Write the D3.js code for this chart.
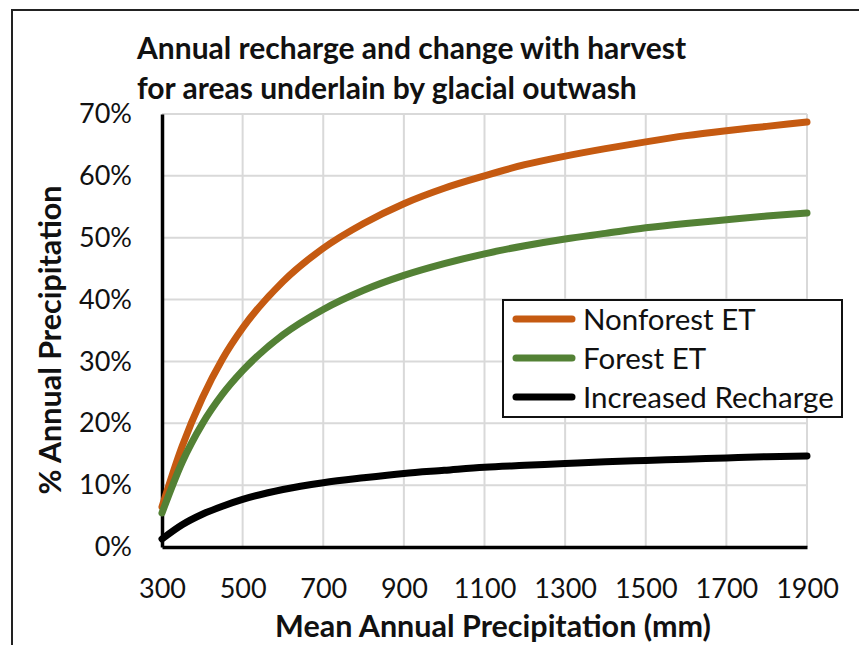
<!DOCTYPE html>
<html>
<head>
<meta charset="utf-8">
<script src="https://cdn.jsdelivr.net/npm/d3@7"></script>
<style>
  html, body { margin: 0; padding: 0; background: #fff; }
  svg { display: block; font-family: Lato, "Open Sans", sans-serif; }
</style>
</head>
<body>
<svg id="chart" width="859" height="645"></svg>
<script>
// Mean annual precipitation (mm)
const precip = [300, 350, 400, 450, 500, 600, 700, 800, 900, 1000, 1100, 1200, 1300, 1400, 1500, 1600, 1700, 1800, 1900];
// Percent of annual precipitation
const nonforestET = [6.5, 16.3, 24.1, 30.4, 35.4, 42.9, 48.3, 52.3, 55.5, 58.0, 60.0, 61.8, 63.2, 64.4, 65.5, 66.5, 67.3, 68.0, 68.7];
const forestET = [5.5, 13.7, 19.9, 24.7, 28.5, 34.3, 38.4, 41.5, 43.9, 45.8, 47.4, 48.7, 49.8, 50.7, 51.6, 52.3, 52.9, 53.5, 54.0];
const increasedRecharge = [1.3, 3.6, 5.3, 6.6, 7.7, 9.3, 10.4, 11.2, 11.9, 12.4, 12.9, 13.2, 13.5, 13.8, 14.0, 14.2, 14.4, 14.6, 14.7];

const xTicks = [300, 500, 700, 900, 1100, 1300, 1500, 1700, 1900];
const yTicks = [0, 10, 20, 30, 40, 50, 60, 70];

const seriesNames = ["Nonforest ET", "Forest ET", "Increased Recharge"];
const seriesColors = ["#C55A11", "#538135", "#000000"];
const seriesValues = [nonforestET, forestET, increasedRecharge];

const titleLines = ["Annual recharge and change with harvest", "for areas underlain by glacial outwash"];
const xTitle = "Mean Annual Precipitation (mm)";
const yTitle = "% Annual Precipitation";

const svg = d3.select("#chart");
const W = 859, H = 645;
const plot = { left: 162, right: 807, top: 114, bottom: 547 };

const x = d3.scaleLinear().domain([300, 1900]).range([plot.left, plot.right]);
const y = d3.scaleLinear().domain([0, 70]).range([plot.bottom, plot.top]);

// chart frame
svg.append("rect")
  .attr("x", 12).attr("y", 10)
  .attr("width", W + 20).attr("height", H + 20)
  .attr("fill", "#fff").attr("stroke", "#222").attr("stroke-width", 2);

// gridlines
const grid = svg.append("g").attr("stroke", "#d9d9d9").attr("stroke-width", 2);
grid.selectAll("line.h").data(yTicks.filter(d => d > 0)).join("line")
  .attr("x1", plot.left).attr("x2", x(1900))
  .attr("y1", d => y(d)).attr("y2", d => y(d));
grid.selectAll("line.v").data(xTicks.filter(d => d > 300)).join("line")
  .attr("x1", d => x(d)).attr("x2", d => x(d))
  .attr("y1", y(70)).attr("y2", plot.bottom);

// axes
const yAxis = d3.axisLeft(y).tickValues(yTicks).tickFormat(d => d + "%")
  .tickSize(0).tickSizeOuter(0).tickPadding(30);
const xAxis = d3.axisBottom(x).tickValues(xTicks).tickFormat(d3.format("d"))
  .tickSize(0).tickSizeOuter(0).tickPadding(32);

const gy = svg.append("g").attr("transform", `translate(${plot.left},0)`).call(yAxis);
const gx = svg.append("g").attr("transform", `translate(0,${plot.bottom})`).call(xAxis);
[gx, gy].forEach(g => {
  g.select(".domain").attr("stroke", "#000").attr("stroke-width", 3.5);
  g.selectAll("text").attr("font-family", "Lato, sans-serif").attr("font-size", 27).attr("fill", "#111");
});

// series lines
const line = d3.line().curve(d3.curveMonotoneX);
seriesValues.forEach((vals, i) => {
  svg.append("path")
    .datum(precip.map((p, j) => [x(p), y(vals[j])]))
    .attr("d", line)
    .attr("fill", "none")
    .attr("stroke", seriesColors[i])
    .attr("stroke-width", 7)
    .attr("stroke-linecap", "round")
    .attr("stroke-linejoin", "round");
});

// title
svg.append("g").selectAll("text").data(titleLines).join("text")
  .attr("x", 137).attr("y", (d, i) => 59 + i * 40)
  .attr("font-size", 30).attr("font-weight", "bold").attr("fill", "#111")
  .text(d => d);

// axis titles
svg.append("text")
  .attr("x", 493).attr("y", 637)
  .attr("text-anchor", "middle").attr("font-size", 30.5).attr("font-weight", "bold").attr("fill", "#111")
  .text(xTitle);
svg.append("text")
  .attr("transform", `translate(61,${340}) rotate(-90)`)
  .attr("text-anchor", "middle").attr("font-size", 30.5).attr("font-weight", "bold").attr("fill", "#111")
  .text(yTitle);

// legend
const legend = svg.append("g");
legend.append("rect")
  .attr("x", 503).attr("y", 300).attr("width", 339).attr("height", 117)
  .attr("fill", "#fff").attr("stroke", "#111").attr("stroke-width", 2);
const rows = legend.selectAll("g.row").data(seriesNames).join("g")
  .attr("transform", (d, i) => `translate(0,${319 + i * 39})`);
rows.append("line")
  .attr("x1", 516).attr("x2", 572).attr("y1", 0).attr("y2", 0)
  .attr("stroke", (d, i) => seriesColors[i]).attr("stroke-width", 7).attr("stroke-linecap", "round");
rows.append("text")
  .attr("x", 583).attr("y", 0).attr("dy", "0.36em")
  .attr("font-size", 29.5).attr("fill", "#111")
  .text(d => d);
</script>
</body>
</html>
